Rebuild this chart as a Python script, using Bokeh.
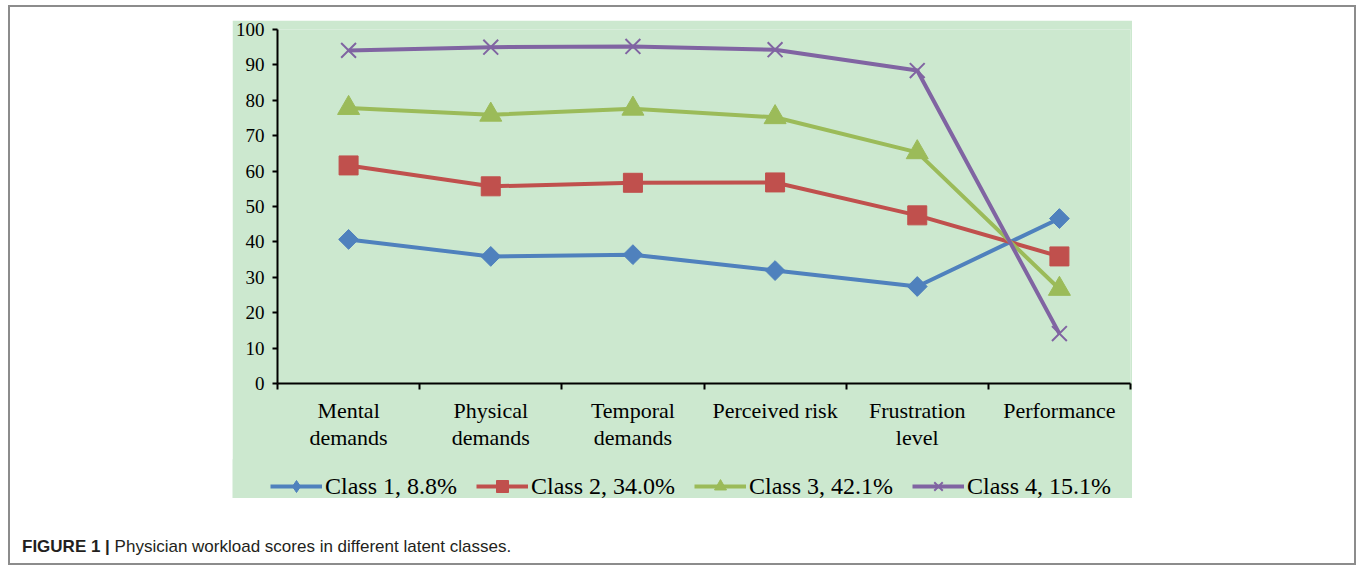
import math
from bokeh.plotting import figure
from bokeh.models import (Range1d, FixedTicker, Legend, LegendItem, Div)
from bokeh.layouts import column
from bokeh.embed import file_html
from bokeh.resources import INLINE

# ---- data ----
categories = ["Mental\ndemands", "Physical\ndemands", "Temporal\ndemands",
              "Perceived risk", "Frustration\nlevel", "Performance"]
class1 = [40.7, 35.9, 36.4, 31.9, 27.4, 46.6]
class2 = [61.6, 55.7, 56.7, 56.8, 47.5, 35.9]
class3 = [77.8, 75.9, 77.6, 75.2, 65.3, 26.7]
class4 = [94.1, 95.0, 95.2, 94.3, 88.4, 14.1]
series_labels = ["Class 1, 8.8%", "Class 2, 34.0%", "Class 3, 42.1%", "Class 4, 15.1%"]
y_ticks = [0, 10, 20, 30, 40, 50, 60, 70, 80, 90, 100]
caption = "<b>FIGURE 1 |</b> Physician workload scores in different latent classes."

# ---- style ----
GREEN_BG = "#CCE8CF"
colors = ["#4F81BD", "#C0504D", "#9BBB59", "#8064A2"]
SERIF = "Liberation Serif"

xs = [i + 0.5 for i in range(len(categories))]
x_bounds = list(range(len(categories) + 1))

p = figure(width=900, height=440, x_range=Range1d(0, len(categories)),
           y_range=Range1d(0, 100), output_backend="svg", toolbar_location=None,
           min_border_left=45, min_border_right=2, min_border_top=9,
           min_border_bottom=77)
p.frame_align = False
p.background_fill_color = GREEN_BG
p.border_fill_color = GREEN_BG
p.outline_line_color = None
p.xgrid.visible = False
p.ygrid.visible = False

# y axis
ya = p.yaxis[0]
ya.ticker = FixedTicker(ticks=y_ticks)
ya.axis_line_width = 2
ya.axis_line_color = "black"
ya.major_tick_line_width = 2
ya.major_tick_line_color = "black"
ya.major_tick_out = 5
ya.major_tick_in = 0
ya.minor_tick_line_color = None
ya.major_label_text_font = SERIF
ya.major_label_text_font_size = "19px"
ya.major_label_text_color = "black"
ya.major_label_standoff = 8

# x axis
xa = p.xaxis[0]
xa.ticker = FixedTicker(ticks=xs, minor_ticks=x_bounds)
xa.major_label_overrides = {x: c for x, c in zip(xs, categories)}
xa.axis_line_width = 2
xa.axis_line_color = "black"
xa.major_tick_line_color = None
xa.major_tick_out = 6
xa.major_tick_in = 0
xa.minor_tick_line_color = "black"
xa.minor_tick_line_width = 2
xa.minor_tick_out = 6
xa.minor_tick_in = 0
xa.major_label_text_font = SERIF
xa.major_label_text_font_size = "22px"
xa.major_label_text_color = "black"
xa.major_label_text_line_height = 1.08
xa.major_label_standoff = 8

markers = ["square", "square", "triangle", "x"]
legend_markers = ["diamond", "square", "triangle", "x"]
angles = [math.pi / 4, 0, 0, 0]
sizes = [14, 19, 22, 21]
series = [class1, class2, class3, class4]


def draw(fig, vals, col, mk, ang, sz):
    lr = fig.line(xs, vals, line_color=col, line_width=4)
    if mk == "x":
        sr = fig.scatter(xs, vals, marker=mk, size=sz, line_color=col, line_width=2)
    else:
        sr = fig.scatter(xs, vals, marker=mk, size=sz, angle=ang, fill_color=col,
                         line_color=col, line_width=1)
    return lr, sr


for vals, col, mk, ang, sz in zip(series, colors, markers, angles, sizes):
    draw(p, vals, col, mk, ang, sz)

# legend strip (same series, outside its view, only the legend shows)
q = figure(width=900, height=39, x_range=Range1d(0, len(categories)),
           y_range=Range1d(200, 300), output_backend="svg", toolbar_location=None,
           x_axis_type=None, y_axis_type=None, min_border=0,
           min_border_left=0, min_border_right=0, min_border_top=0,
           min_border_bottom=0)
q.frame_align = False
q.background_fill_color = GREEN_BG
q.border_fill_color = GREEN_BG
q.outline_line_color = None
q.xgrid.visible = False
q.ygrid.visible = False

items = []
for vals, col, mk, sz, lab in zip(series, colors, legend_markers, sizes, series_labels):
    lr, sr = draw(q, vals, col, mk, 0, sz)
    items.append(LegendItem(label=lab, renderers=[lr, sr]))

legend = Legend(items=items, orientation="horizontal", location=(38, -3),
                padding=0, margin=0, spacing=19, glyph_width=52, glyph_height=30,
                label_standoff=3, background_fill_alpha=0, border_line_color=None,
                label_text_font=SERIF, label_text_font_size="24px",
                label_text_color="black")
q.add_layout(legend, "center")

cap = Div(text=caption, margin=(39, 0, 0, 12),
          styles={"font-family": "Liberation Sans", "font-size": "17px",
                  "color": "#231f20", "line-height": "1.15"})
p.margin = (13, 0, 0, 222)
q.margin = (-1, 0, 0, 222)

layout = column(p, q, cap, width=1348, height=560, margin=(5, 0, 0, 8),
                styles={"border": "2px solid #8c8c8c", "box-sizing": "border-box"})

open("out.html", "w").write(file_html(layout, INLINE))
